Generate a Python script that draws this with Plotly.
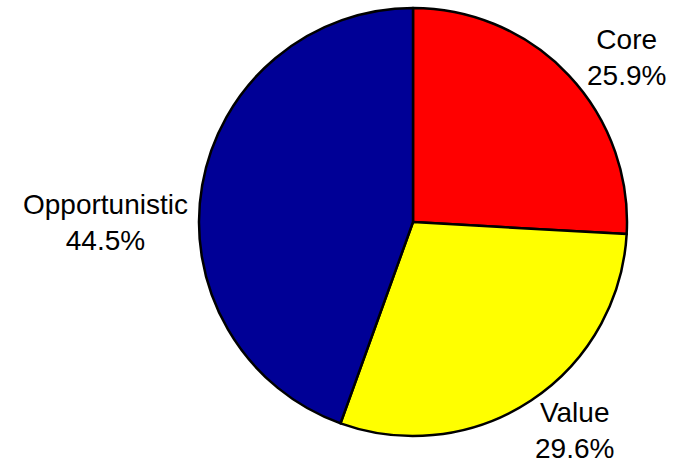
import math
import plotly.graph_objects as go

labels = ["Core", "Value", "Opportunistic"]
values = [25.9, 29.6, 44.5]
colors = ["#FF0000", "#FFFF00", "#000096"]

W, H = 681, 463
CX, CY, R = 413, 222, 214  # pie centre / radius in px (layout)

# label offsets from arc midpoint (px, style only)
label_shift = {"Core": (58, 18), "Value": (43, -30), "Opportunistic": (-97, -37)}

fig = go.Figure(go.Pie(
    labels=labels, values=values, sort=False, direction="clockwise", rotation=0,
    marker=dict(colors=colors, line=dict(color="black", width=2.5)),
    textinfo="none", hoverinfo="label+percent", showlegend=False,
    domain=dict(x=[(CX - R) / W, (CX + R) / W], y=[(H - CY - R) / H, (H - CY + R) / H]),
))

total = sum(values)
cum = 0
annots = []
for lab, v in zip(labels, values):
    mid = (cum + v / 2) / total * 2 * math.pi
    cum += v
    px = CX + R * math.sin(mid)
    py = CY - R * math.cos(mid)
    dx, dy = label_shift[lab]
    annots.append(dict(
        x=px / W, y=1 - py / H, xref="paper", yref="paper",
        text=f"{lab}<br>{v / total * 100:.1f}%", showarrow=False,
        xanchor="center", yanchor="middle", xshift=dx, yshift=dy,
        font=dict(family="Liberation Sans, Arial, sans-serif", size=28, color="black"),
    ))

fig.update_layout(
    width=W, height=H, margin=dict(l=0, r=0, t=0, b=0),
    paper_bgcolor="white", plot_bgcolor="white", annotations=annots,
)
fig.write_html("out.html")
